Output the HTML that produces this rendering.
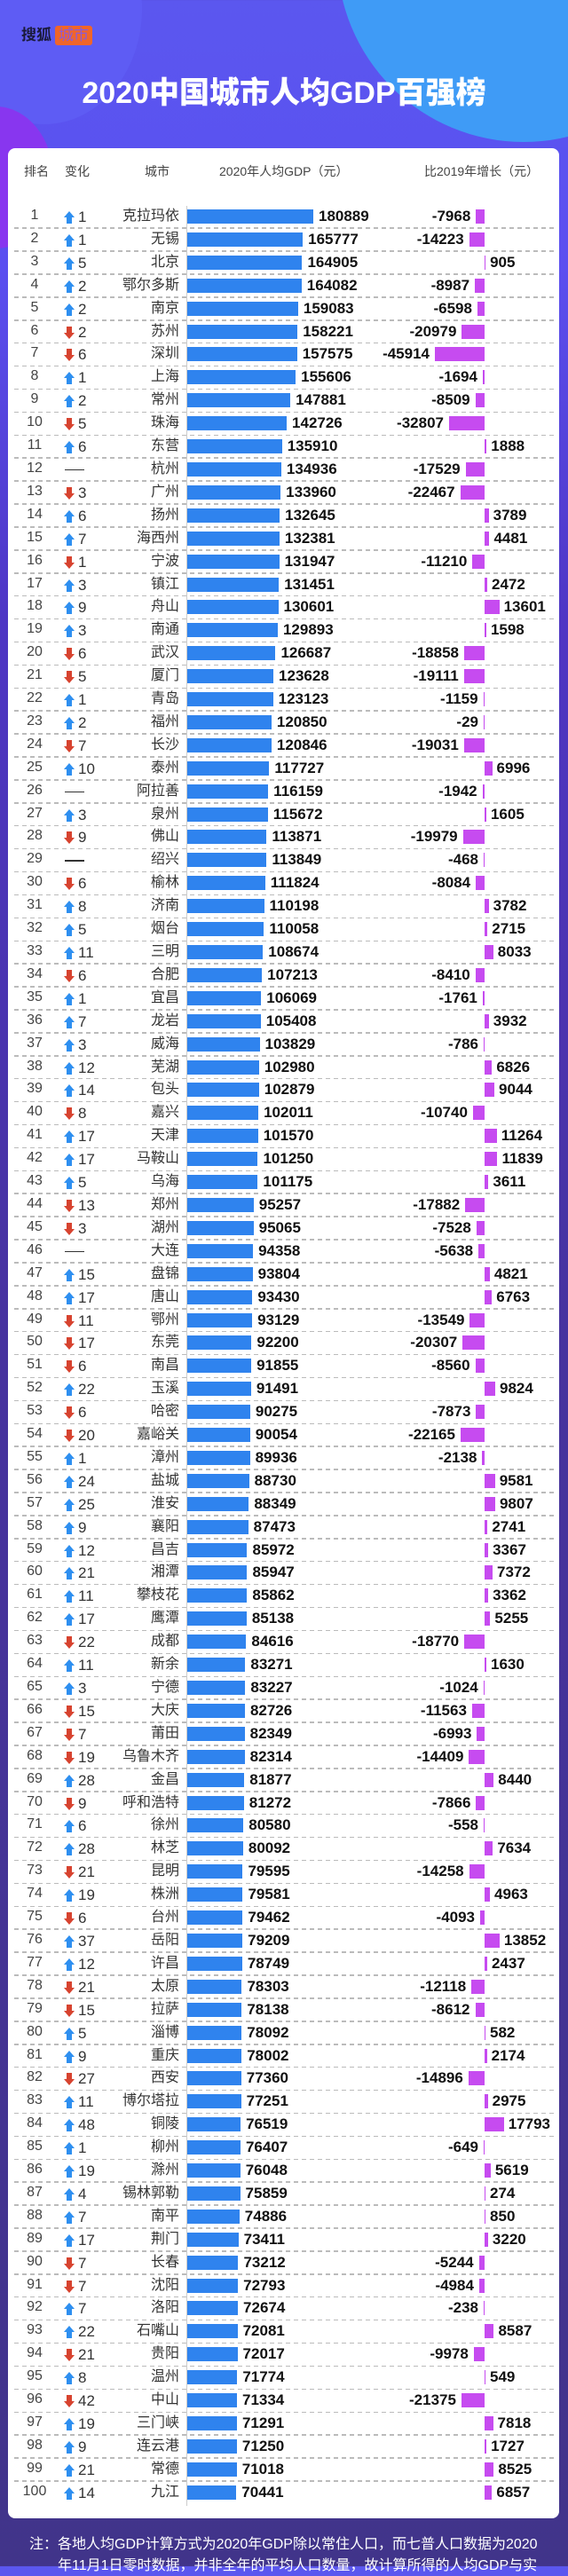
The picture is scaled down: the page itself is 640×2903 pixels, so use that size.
<!DOCTYPE html>
<html><head><meta charset="utf-8"><style>
*{margin:0;padding:0;box-sizing:border-box}
body{width:640px;height:2892px;overflow:hidden;position:relative;font-family:"Liberation Sans","Noto Sans CJK SC",sans-serif;
background:linear-gradient(180deg,#5b57ef 0px,#5a4ff0 300px,#4e36c4 700px,#47339f 1500px,#41348a 2892px)}
.blob{position:absolute;border-radius:50%}
.logo{position:absolute;left:24px;top:29px;font-size:17px;font-weight:bold;color:#1a1a3a;line-height:22px}
.logo span{display:inline-block;background:#f0652a;color:#8d5ad6;font-weight:normal;padding:0 4px;border-radius:3px;margin-left:4px}
h1{position:absolute;left:0;width:640px;top:84px;text-align:center;color:#fff;font-size:34px;font-weight:900;line-height:42px}
.card{position:absolute;left:9px;top:167px;width:621px;height:2671px;background:#fff;border-radius:8px}
.hd{position:absolute;top:183px;font-size:14px;color:#444;line-height:20px}
.axis{position:absolute;left:210px;top:232px;width:1px;height:2592px;background:#ccc}
#rows{position:absolute;left:0;top:231px;width:640px}
.r{position:relative;height:25.92px;width:640px}
.r:after{content:"";position:absolute;left:16px;right:16px;bottom:-1px;height:1.5px;background:repeating-linear-gradient(90deg,#bbb 0 5px,transparent 5px 9px)}
.r:last-child:after{display:none}
.r i{position:absolute;left:20px;width:38px;text-align:center;font-style:normal;font-size:16px;color:#444;top:2px;line-height:20px}
.r b{position:absolute;left:88px;font-weight:normal;font-size:17px;color:#333;top:4px;line-height:20px}
.r b.u:before{content:"";position:absolute;left:-16px;top:3px;border-left:6px solid transparent;border-right:6px solid transparent;border-bottom:7px solid #2e8ff0}
.r b.u:after{content:"";position:absolute;left:-13px;top:10px;width:6px;height:7px;background:#2e8ff0}
.r b.d:before{content:"";position:absolute;left:-13px;top:3px;width:6px;height:7px;background:#d7432f}
.r b.d:after{content:"";position:absolute;left:-16px;top:10px;border-left:6px solid transparent;border-right:6px solid transparent;border-top:7px solid #d7432f}
.r b.z{left:73px;width:22px;height:1.5px;background:#333;top:13px}
.r s{position:absolute;left:100px;width:102px;text-align:right;text-decoration:none;font-size:16px;color:#333;top:3px;line-height:20px;white-space:nowrap}
.g,.n,.p{position:absolute;top:0;height:26px;display:flex;align-items:center;font-weight:bold;font-size:17px;color:#111;white-space:nowrap}
.g{left:211px}
.g em{display:block;height:16px;background:#2f83ee;width:calc(var(--v) * 0.000785px);margin-right:6px}
.n{right:94px}
.n em,.p em{display:block;height:16px;background:#c64bf0;width:max(1px,calc(var(--v) * 0.00122px))}
.n em{margin-left:6px}
.p{left:546px}
.p em{margin-right:5px}
.foot{position:absolute;color:#fff;font-size:16px;line-height:22px;white-space:nowrap}
</style></head><body>
<div class="blob" style="left:380px;top:-260px;width:420px;height:420px;background:#3f9bf6"></div>
<div class="blob" style="left:-60px;top:-120px;width:220px;height:260px;background:#5e5cf4"></div>
<div class="blob" style="left:-70px;top:120px;width:130px;height:160px;background:#8836ef"></div>
<div class="logo">搜狐<span>城市</span></div>
<h1>2020中国城市人均GDP百强榜</h1>
<div class="card"></div>
<div class="hd" style="left:27px">排名</div>
<div class="hd" style="left:73px">变化</div>
<div class="hd" style="left:163px">城市</div>
<div class="hd" style="left:247px">2020年人均GDP（元）</div>
<div class="hd" style="left:478px">比2019年增长（元）</div>
<div class="axis"></div>
<div id="rows">
<div class="r"><i>1</i><b class="u">1</b><s>克拉玛依</s><div class="g"><em style="--v:180889"></em>180889</div><div class="n">-7968<em style="--v:7968"></em></div></div>
<div class="r"><i>2</i><b class="u">1</b><s>无锡</s><div class="g"><em style="--v:165777"></em>165777</div><div class="n">-14223<em style="--v:14223"></em></div></div>
<div class="r"><i>3</i><b class="u">5</b><s>北京</s><div class="g"><em style="--v:164905"></em>164905</div><div class="p"><em style="--v:905"></em>905</div></div>
<div class="r"><i>4</i><b class="u">2</b><s>鄂尔多斯</s><div class="g"><em style="--v:164082"></em>164082</div><div class="n">-8987<em style="--v:8987"></em></div></div>
<div class="r"><i>5</i><b class="u">2</b><s>南京</s><div class="g"><em style="--v:159083"></em>159083</div><div class="n">-6598<em style="--v:6598"></em></div></div>
<div class="r"><i>6</i><b class="d">2</b><s>苏州</s><div class="g"><em style="--v:158221"></em>158221</div><div class="n">-20979<em style="--v:20979"></em></div></div>
<div class="r"><i>7</i><b class="d">6</b><s>深圳</s><div class="g"><em style="--v:157575"></em>157575</div><div class="n">-45914<em style="--v:45914"></em></div></div>
<div class="r"><i>8</i><b class="u">1</b><s>上海</s><div class="g"><em style="--v:155606"></em>155606</div><div class="n">-1694<em style="--v:1694"></em></div></div>
<div class="r"><i>9</i><b class="u">2</b><s>常州</s><div class="g"><em style="--v:147881"></em>147881</div><div class="n">-8509<em style="--v:8509"></em></div></div>
<div class="r"><i>10</i><b class="d">5</b><s>珠海</s><div class="g"><em style="--v:142726"></em>142726</div><div class="n">-32807<em style="--v:32807"></em></div></div>
<div class="r"><i>11</i><b class="u">6</b><s>东营</s><div class="g"><em style="--v:135910"></em>135910</div><div class="p"><em style="--v:1888"></em>1888</div></div>
<div class="r"><i>12</i><b class="z"></b><s>杭州</s><div class="g"><em style="--v:134936"></em>134936</div><div class="n">-17529<em style="--v:17529"></em></div></div>
<div class="r"><i>13</i><b class="d">3</b><s>广州</s><div class="g"><em style="--v:133960"></em>133960</div><div class="n">-22467<em style="--v:22467"></em></div></div>
<div class="r"><i>14</i><b class="u">6</b><s>扬州</s><div class="g"><em style="--v:132645"></em>132645</div><div class="p"><em style="--v:3789"></em>3789</div></div>
<div class="r"><i>15</i><b class="u">7</b><s>海西州</s><div class="g"><em style="--v:132381"></em>132381</div><div class="p"><em style="--v:4481"></em>4481</div></div>
<div class="r"><i>16</i><b class="d">1</b><s>宁波</s><div class="g"><em style="--v:131947"></em>131947</div><div class="n">-11210<em style="--v:11210"></em></div></div>
<div class="r"><i>17</i><b class="u">3</b><s>镇江</s><div class="g"><em style="--v:131451"></em>131451</div><div class="p"><em style="--v:2472"></em>2472</div></div>
<div class="r"><i>18</i><b class="u">9</b><s>舟山</s><div class="g"><em style="--v:130601"></em>130601</div><div class="p"><em style="--v:13601"></em>13601</div></div>
<div class="r"><i>19</i><b class="u">3</b><s>南通</s><div class="g"><em style="--v:129893"></em>129893</div><div class="p"><em style="--v:1598"></em>1598</div></div>
<div class="r"><i>20</i><b class="d">6</b><s>武汉</s><div class="g"><em style="--v:126687"></em>126687</div><div class="n">-18858<em style="--v:18858"></em></div></div>
<div class="r"><i>21</i><b class="d">5</b><s>厦门</s><div class="g"><em style="--v:123628"></em>123628</div><div class="n">-19111<em style="--v:19111"></em></div></div>
<div class="r"><i>22</i><b class="u">1</b><s>青岛</s><div class="g"><em style="--v:123123"></em>123123</div><div class="n">-1159<em style="--v:1159"></em></div></div>
<div class="r"><i>23</i><b class="u">2</b><s>福州</s><div class="g"><em style="--v:120850"></em>120850</div><div class="n">-29<em style="--v:29"></em></div></div>
<div class="r"><i>24</i><b class="d">7</b><s>长沙</s><div class="g"><em style="--v:120846"></em>120846</div><div class="n">-19031<em style="--v:19031"></em></div></div>
<div class="r"><i>25</i><b class="u">10</b><s>泰州</s><div class="g"><em style="--v:117727"></em>117727</div><div class="p"><em style="--v:6996"></em>6996</div></div>
<div class="r"><i>26</i><b class="z"></b><s>阿拉善</s><div class="g"><em style="--v:116159"></em>116159</div><div class="n">-1942<em style="--v:1942"></em></div></div>
<div class="r"><i>27</i><b class="u">3</b><s>泉州</s><div class="g"><em style="--v:115672"></em>115672</div><div class="p"><em style="--v:1605"></em>1605</div></div>
<div class="r"><i>28</i><b class="d">9</b><s>佛山</s><div class="g"><em style="--v:113871"></em>113871</div><div class="n">-19979<em style="--v:19979"></em></div></div>
<div class="r"><i>29</i><b class="z"></b><s>绍兴</s><div class="g"><em style="--v:113849"></em>113849</div><div class="n">-468<em style="--v:468"></em></div></div>
<div class="r"><i>30</i><b class="d">6</b><s>榆林</s><div class="g"><em style="--v:111824"></em>111824</div><div class="n">-8084<em style="--v:8084"></em></div></div>
<div class="r"><i>31</i><b class="u">8</b><s>济南</s><div class="g"><em style="--v:110198"></em>110198</div><div class="p"><em style="--v:3782"></em>3782</div></div>
<div class="r"><i>32</i><b class="u">5</b><s>烟台</s><div class="g"><em style="--v:110058"></em>110058</div><div class="p"><em style="--v:2715"></em>2715</div></div>
<div class="r"><i>33</i><b class="u">11</b><s>三明</s><div class="g"><em style="--v:108674"></em>108674</div><div class="p"><em style="--v:8033"></em>8033</div></div>
<div class="r"><i>34</i><b class="d">6</b><s>合肥</s><div class="g"><em style="--v:107213"></em>107213</div><div class="n">-8410<em style="--v:8410"></em></div></div>
<div class="r"><i>35</i><b class="u">1</b><s>宜昌</s><div class="g"><em style="--v:106069"></em>106069</div><div class="n">-1761<em style="--v:1761"></em></div></div>
<div class="r"><i>36</i><b class="u">7</b><s>龙岩</s><div class="g"><em style="--v:105408"></em>105408</div><div class="p"><em style="--v:3932"></em>3932</div></div>
<div class="r"><i>37</i><b class="u">3</b><s>威海</s><div class="g"><em style="--v:103829"></em>103829</div><div class="n">-786<em style="--v:786"></em></div></div>
<div class="r"><i>38</i><b class="u">12</b><s>芜湖</s><div class="g"><em style="--v:102980"></em>102980</div><div class="p"><em style="--v:6826"></em>6826</div></div>
<div class="r"><i>39</i><b class="u">14</b><s>包头</s><div class="g"><em style="--v:102879"></em>102879</div><div class="p"><em style="--v:9044"></em>9044</div></div>
<div class="r"><i>40</i><b class="d">8</b><s>嘉兴</s><div class="g"><em style="--v:102011"></em>102011</div><div class="n">-10740<em style="--v:10740"></em></div></div>
<div class="r"><i>41</i><b class="u">17</b><s>天津</s><div class="g"><em style="--v:101570"></em>101570</div><div class="p"><em style="--v:11264"></em>11264</div></div>
<div class="r"><i>42</i><b class="u">17</b><s>马鞍山</s><div class="g"><em style="--v:101250"></em>101250</div><div class="p"><em style="--v:11839"></em>11839</div></div>
<div class="r"><i>43</i><b class="u">5</b><s>乌海</s><div class="g"><em style="--v:101175"></em>101175</div><div class="p"><em style="--v:3611"></em>3611</div></div>
<div class="r"><i>44</i><b class="d">13</b><s>郑州</s><div class="g"><em style="--v:95257"></em>95257</div><div class="n">-17882<em style="--v:17882"></em></div></div>
<div class="r"><i>45</i><b class="d">3</b><s>湖州</s><div class="g"><em style="--v:95065"></em>95065</div><div class="n">-7528<em style="--v:7528"></em></div></div>
<div class="r"><i>46</i><b class="z"></b><s>大连</s><div class="g"><em style="--v:94358"></em>94358</div><div class="n">-5638<em style="--v:5638"></em></div></div>
<div class="r"><i>47</i><b class="u">15</b><s>盘锦</s><div class="g"><em style="--v:93804"></em>93804</div><div class="p"><em style="--v:4821"></em>4821</div></div>
<div class="r"><i>48</i><b class="u">17</b><s>唐山</s><div class="g"><em style="--v:93430"></em>93430</div><div class="p"><em style="--v:6763"></em>6763</div></div>
<div class="r"><i>49</i><b class="d">11</b><s>鄂州</s><div class="g"><em style="--v:93129"></em>93129</div><div class="n">-13549<em style="--v:13549"></em></div></div>
<div class="r"><i>50</i><b class="d">17</b><s>东莞</s><div class="g"><em style="--v:92200"></em>92200</div><div class="n">-20307<em style="--v:20307"></em></div></div>
<div class="r"><i>51</i><b class="d">6</b><s>南昌</s><div class="g"><em style="--v:91855"></em>91855</div><div class="n">-8560<em style="--v:8560"></em></div></div>
<div class="r"><i>52</i><b class="u">22</b><s>玉溪</s><div class="g"><em style="--v:91491"></em>91491</div><div class="p"><em style="--v:9824"></em>9824</div></div>
<div class="r"><i>53</i><b class="d">6</b><s>哈密</s><div class="g"><em style="--v:90275"></em>90275</div><div class="n">-7873<em style="--v:7873"></em></div></div>
<div class="r"><i>54</i><b class="d">20</b><s>嘉峪关</s><div class="g"><em style="--v:90054"></em>90054</div><div class="n">-22165<em style="--v:22165"></em></div></div>
<div class="r"><i>55</i><b class="u">1</b><s>漳州</s><div class="g"><em style="--v:89936"></em>89936</div><div class="n">-2138<em style="--v:2138"></em></div></div>
<div class="r"><i>56</i><b class="u">24</b><s>盐城</s><div class="g"><em style="--v:88730"></em>88730</div><div class="p"><em style="--v:9581"></em>9581</div></div>
<div class="r"><i>57</i><b class="u">25</b><s>淮安</s><div class="g"><em style="--v:88349"></em>88349</div><div class="p"><em style="--v:9807"></em>9807</div></div>
<div class="r"><i>58</i><b class="u">9</b><s>襄阳</s><div class="g"><em style="--v:87473"></em>87473</div><div class="p"><em style="--v:2741"></em>2741</div></div>
<div class="r"><i>59</i><b class="u">12</b><s>昌吉</s><div class="g"><em style="--v:85972"></em>85972</div><div class="p"><em style="--v:3367"></em>3367</div></div>
<div class="r"><i>60</i><b class="u">21</b><s>湘潭</s><div class="g"><em style="--v:85947"></em>85947</div><div class="p"><em style="--v:7372"></em>7372</div></div>
<div class="r"><i>61</i><b class="u">11</b><s>攀枝花</s><div class="g"><em style="--v:85862"></em>85862</div><div class="p"><em style="--v:3362"></em>3362</div></div>
<div class="r"><i>62</i><b class="u">17</b><s>鹰潭</s><div class="g"><em style="--v:85138"></em>85138</div><div class="p"><em style="--v:5255"></em>5255</div></div>
<div class="r"><i>63</i><b class="d">22</b><s>成都</s><div class="g"><em style="--v:84616"></em>84616</div><div class="n">-18770<em style="--v:18770"></em></div></div>
<div class="r"><i>64</i><b class="u">11</b><s>新余</s><div class="g"><em style="--v:83271"></em>83271</div><div class="p"><em style="--v:1630"></em>1630</div></div>
<div class="r"><i>65</i><b class="u">3</b><s>宁德</s><div class="g"><em style="--v:83227"></em>83227</div><div class="n">-1024<em style="--v:1024"></em></div></div>
<div class="r"><i>66</i><b class="d">15</b><s>大庆</s><div class="g"><em style="--v:82726"></em>82726</div><div class="n">-11563<em style="--v:11563"></em></div></div>
<div class="r"><i>67</i><b class="d">7</b><s>莆田</s><div class="g"><em style="--v:82349"></em>82349</div><div class="n">-6993<em style="--v:6993"></em></div></div>
<div class="r"><i>68</i><b class="d">19</b><s>乌鲁木齐</s><div class="g"><em style="--v:82314"></em>82314</div><div class="n">-14409<em style="--v:14409"></em></div></div>
<div class="r"><i>69</i><b class="u">28</b><s>金昌</s><div class="g"><em style="--v:81877"></em>81877</div><div class="p"><em style="--v:8440"></em>8440</div></div>
<div class="r"><i>70</i><b class="d">9</b><s>呼和浩特</s><div class="g"><em style="--v:81272"></em>81272</div><div class="n">-7866<em style="--v:7866"></em></div></div>
<div class="r"><i>71</i><b class="u">6</b><s>徐州</s><div class="g"><em style="--v:80580"></em>80580</div><div class="n">-558<em style="--v:558"></em></div></div>
<div class="r"><i>72</i><b class="u">28</b><s>林芝</s><div class="g"><em style="--v:80092"></em>80092</div><div class="p"><em style="--v:7634"></em>7634</div></div>
<div class="r"><i>73</i><b class="d">21</b><s>昆明</s><div class="g"><em style="--v:79595"></em>79595</div><div class="n">-14258<em style="--v:14258"></em></div></div>
<div class="r"><i>74</i><b class="u">19</b><s>株洲</s><div class="g"><em style="--v:79581"></em>79581</div><div class="p"><em style="--v:4963"></em>4963</div></div>
<div class="r"><i>75</i><b class="d">6</b><s>台州</s><div class="g"><em style="--v:79462"></em>79462</div><div class="n">-4093<em style="--v:4093"></em></div></div>
<div class="r"><i>76</i><b class="u">37</b><s>岳阳</s><div class="g"><em style="--v:79209"></em>79209</div><div class="p"><em style="--v:13852"></em>13852</div></div>
<div class="r"><i>77</i><b class="u">12</b><s>许昌</s><div class="g"><em style="--v:78749"></em>78749</div><div class="p"><em style="--v:2437"></em>2437</div></div>
<div class="r"><i>78</i><b class="d">21</b><s>太原</s><div class="g"><em style="--v:78303"></em>78303</div><div class="n">-12118<em style="--v:12118"></em></div></div>
<div class="r"><i>79</i><b class="d">15</b><s>拉萨</s><div class="g"><em style="--v:78138"></em>78138</div><div class="n">-8612<em style="--v:8612"></em></div></div>
<div class="r"><i>80</i><b class="u">5</b><s>淄博</s><div class="g"><em style="--v:78092"></em>78092</div><div class="p"><em style="--v:582"></em>582</div></div>
<div class="r"><i>81</i><b class="u">9</b><s>重庆</s><div class="g"><em style="--v:78002"></em>78002</div><div class="p"><em style="--v:2174"></em>2174</div></div>
<div class="r"><i>82</i><b class="d">27</b><s>西安</s><div class="g"><em style="--v:77360"></em>77360</div><div class="n">-14896<em style="--v:14896"></em></div></div>
<div class="r"><i>83</i><b class="u">11</b><s>博尔塔拉</s><div class="g"><em style="--v:77251"></em>77251</div><div class="p"><em style="--v:2975"></em>2975</div></div>
<div class="r"><i>84</i><b class="u">48</b><s>铜陵</s><div class="g"><em style="--v:76519"></em>76519</div><div class="p"><em style="--v:17793"></em>17793</div></div>
<div class="r"><i>85</i><b class="u">1</b><s>柳州</s><div class="g"><em style="--v:76407"></em>76407</div><div class="n">-649<em style="--v:649"></em></div></div>
<div class="r"><i>86</i><b class="u">19</b><s>滁州</s><div class="g"><em style="--v:76048"></em>76048</div><div class="p"><em style="--v:5619"></em>5619</div></div>
<div class="r"><i>87</i><b class="u">4</b><s>锡林郭勒</s><div class="g"><em style="--v:75859"></em>75859</div><div class="p"><em style="--v:274"></em>274</div></div>
<div class="r"><i>88</i><b class="u">7</b><s>南平</s><div class="g"><em style="--v:74886"></em>74886</div><div class="p"><em style="--v:850"></em>850</div></div>
<div class="r"><i>89</i><b class="u">17</b><s>荆门</s><div class="g"><em style="--v:73411"></em>73411</div><div class="p"><em style="--v:3220"></em>3220</div></div>
<div class="r"><i>90</i><b class="d">7</b><s>长春</s><div class="g"><em style="--v:73212"></em>73212</div><div class="n">-5244<em style="--v:5244"></em></div></div>
<div class="r"><i>91</i><b class="d">7</b><s>沈阳</s><div class="g"><em style="--v:72793"></em>72793</div><div class="n">-4984<em style="--v:4984"></em></div></div>
<div class="r"><i>92</i><b class="u">7</b><s>洛阳</s><div class="g"><em style="--v:72674"></em>72674</div><div class="n">-238<em style="--v:238"></em></div></div>
<div class="r"><i>93</i><b class="u">22</b><s>石嘴山</s><div class="g"><em style="--v:72081"></em>72081</div><div class="p"><em style="--v:8587"></em>8587</div></div>
<div class="r"><i>94</i><b class="d">21</b><s>贵阳</s><div class="g"><em style="--v:72017"></em>72017</div><div class="n">-9978<em style="--v:9978"></em></div></div>
<div class="r"><i>95</i><b class="u">8</b><s>温州</s><div class="g"><em style="--v:71774"></em>71774</div><div class="p"><em style="--v:549"></em>549</div></div>
<div class="r"><i>96</i><b class="d">42</b><s>中山</s><div class="g"><em style="--v:71334"></em>71334</div><div class="n">-21375<em style="--v:21375"></em></div></div>
<div class="r"><i>97</i><b class="u">19</b><s>三门峡</s><div class="g"><em style="--v:71291"></em>71291</div><div class="p"><em style="--v:7818"></em>7818</div></div>
<div class="r"><i>98</i><b class="u">9</b><s>连云港</s><div class="g"><em style="--v:71250"></em>71250</div><div class="p"><em style="--v:1727"></em>1727</div></div>
<div class="r"><i>99</i><b class="u">21</b><s>常德</s><div class="g"><em style="--v:71018"></em>71018</div><div class="p"><em style="--v:8525"></em>8525</div></div>
<div class="r"><i>100</i><b class="u">14</b><s>九江</s><div class="g"><em style="--v:70441"></em>70441</div><div class="p"><em style="--v:6857"></em>6857</div></div>
</div>
<div class="foot" style="left:33px;top:2857px">注：各地人均GDP计算方式为2020年GDP除以常住人口，而七普人口数据为2020</div>
<div class="foot" style="left:65px;top:2881px">年11月1日零时数据，并非全年的平均人口数量，故计算所得的人均GDP与实</div>
</body></html>
